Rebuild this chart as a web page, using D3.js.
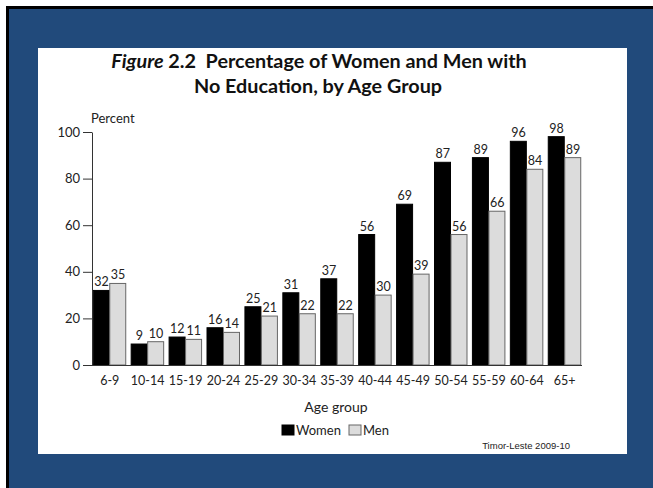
<!DOCTYPE html>
<html>
<head>
<meta charset="utf-8">
<script src="https://cdn.jsdelivr.net/npm/d3@7"></script>
<style>
  html, body { margin: 0; padding: 0; background: #fff; }
  svg { display: block; }
</style>
</head>
<body>
<div id="chart"></div>
<script>
// chart data
const ageGroups = ['6-9', '10-14', '15-19', '20-24', '25-29', '30-34', '35-39',
                   '40-44', '45-49', '50-54', '55-59', '60-64', '65+'];
const women = [32, 9, 12, 16, 25, 31, 37, 56, 69, 87, 89, 96, 98];
const men = [35, 10, 11, 14, 21, 22, 22, 30, 39, 56, 66, 84, 89];
const yTicks = [0, 20, 40, 60, 80, 100];
const seriesNames = ['Women', 'Men'];

const width = 653;
const height = 488;
const font = 'Lato, "Open Sans", sans-serif';

const svg = d3.select('#chart')
    .append('svg')
    .attr('width', width)
    .attr('height', height);

// frame: black edge, blue slide, white panel
svg.append('rect').attr('x', 6).attr('y', 6).attr('width', width - 6).attr('height', height - 6)
    .attr('fill', '#000');
svg.append('rect').attr('x', 9).attr('y', 9).attr('width', width - 9).attr('height', height - 9)
    .attr('fill', '#214a7b');
svg.append('rect').attr('x', 38).attr('y', 48).attr('width', 589).attr('height', 406)
    .attr('fill', '#fff');

// title
const title = svg.append('text')
    .attr('text-anchor', 'middle')
    .attr('font-family', font)
    .attr('font-size', 19.8)
    .attr('font-weight', 700)
    .attr('fill', '#111');
const line1 = title.append('tspan').attr('x', 319).attr('y', 68);
line1.append('tspan').attr('font-style', 'italic').text('Figure');
line1.append('tspan').text(' 2.2\u00a0\u00a0Percentage of Women and Men with');
title.append('tspan').attr('x', 318).attr('y', 93).text('No Education, by Age Group');

// scales
const x0 = d3.scaleBand()
    .domain(ageGroups)
    .range([92.5, 582])
    .paddingInner(0.13)
    .paddingOuter(0.02);

const x1 = d3.scaleBand()
    .domain(seriesNames)
    .range([0, x0.bandwidth()]);

const y = d3.scaleLinear()
    .domain([0, 100])
    .range([365, 132]);

const fills = { Women: '#000', Men: '#dcdcdc' };
const strokes = { Women: '#000', Men: '#666' };

const rows = ageGroups.map((g, i) => ({ group: g, Women: women[i], Men: men[i] }));

// bars
const groups = svg.append('g').selectAll('g')
    .data(rows)
    .join('g')
    .attr('transform', d => `translate(${x0(d.group)},0)`);

groups.selectAll('rect')
    .data(d => seriesNames.map(k => ({ key: k, value: d[k] })))
    .join('rect')
    .attr('x', d => x1(d.key))
    .attr('y', d => y(d.value))
    .attr('width', x1.bandwidth() - 0.5)
    .attr('height', d => y(0) - y(d.value))
    .attr('fill', d => fills[d.key])
    .attr('stroke', d => strokes[d.key])
    .attr('stroke-width', 1);

groups.selectAll('text')
    .data(d => seriesNames.map(k => ({ key: k, value: d[k] })))
    .join('text')
    .attr('x', d => x1(d.key) + x1.bandwidth() / 2)
    .attr('y', d => y(d.value) - 4)
    .attr('text-anchor', 'middle')
    .attr('font-family', font)
    .attr('font-size', 12.5)
    .attr('fill', '#222')
    .text(d => d.value);

// y axis
const yAxis = svg.append('g')
    .attr('transform', 'translate(92,0)')
    .call(d3.axisLeft(y).tickValues(yTicks).tickSize(9).tickSizeOuter(0));
yAxis.select('.domain').attr('stroke', '#333');
yAxis.selectAll('.tick line').attr('stroke', '#333');
yAxis.selectAll('.tick text')
    .attr('x', -12)
    .attr('font-family', font)
    .attr('font-size', 13)
    .attr('fill', '#222');

// baseline and x labels
const xAxis = svg.append('g')
    .attr('transform', `translate(0,${y(0)})`)
    .call(d3.axisBottom(x0).tickSize(0).tickSizeOuter(0));
xAxis.select('.domain').attr('stroke', '#333').attr('d', 'M92,0.5H582');
xAxis.selectAll('.tick text')
    .attr('y', 11)
    .attr('font-family', font)
    .attr('font-size', 12.5)
    .attr('fill', '#222');

svg.append('text')
    .attr('x', 91).attr('y', 123)
    .attr('font-family', font)
    .attr('font-size', 13)
    .attr('fill', '#222')
    .text('Percent');

svg.append('text')
    .attr('x', 336).attr('y', 412)
    .attr('text-anchor', 'middle')
    .attr('font-family', font)
    .attr('font-size', 14)
    .attr('fill', '#222')
    .text('Age group');

// legend
const legendX = [282, 349];
const legend = svg.append('g').selectAll('g')
    .data(seriesNames)
    .join('g')
    .attr('transform', (d, i) => `translate(${legendX[i]},425)`);
legend.append('rect')
    .attr('width', 12).attr('height', 10)
    .attr('fill', d => fills[d])
    .attr('stroke', d => strokes[d]);
legend.append('text')
    .attr('x', 14).attr('y', 10)
    .attr('font-family', font)
    .attr('font-size', 13)
    .attr('fill', '#222')
    .text(d => d);

svg.append('text')
    .attr('x', 570).attr('y', 449)
    .attr('text-anchor', 'end')
    .attr('font-family', '"Liberation Sans", Arial, sans-serif')
    .attr('font-size', 9.5)
    .attr('fill', '#222')
    .text('Timor-Leste 2009-10');
</script>
</body>
</html>
